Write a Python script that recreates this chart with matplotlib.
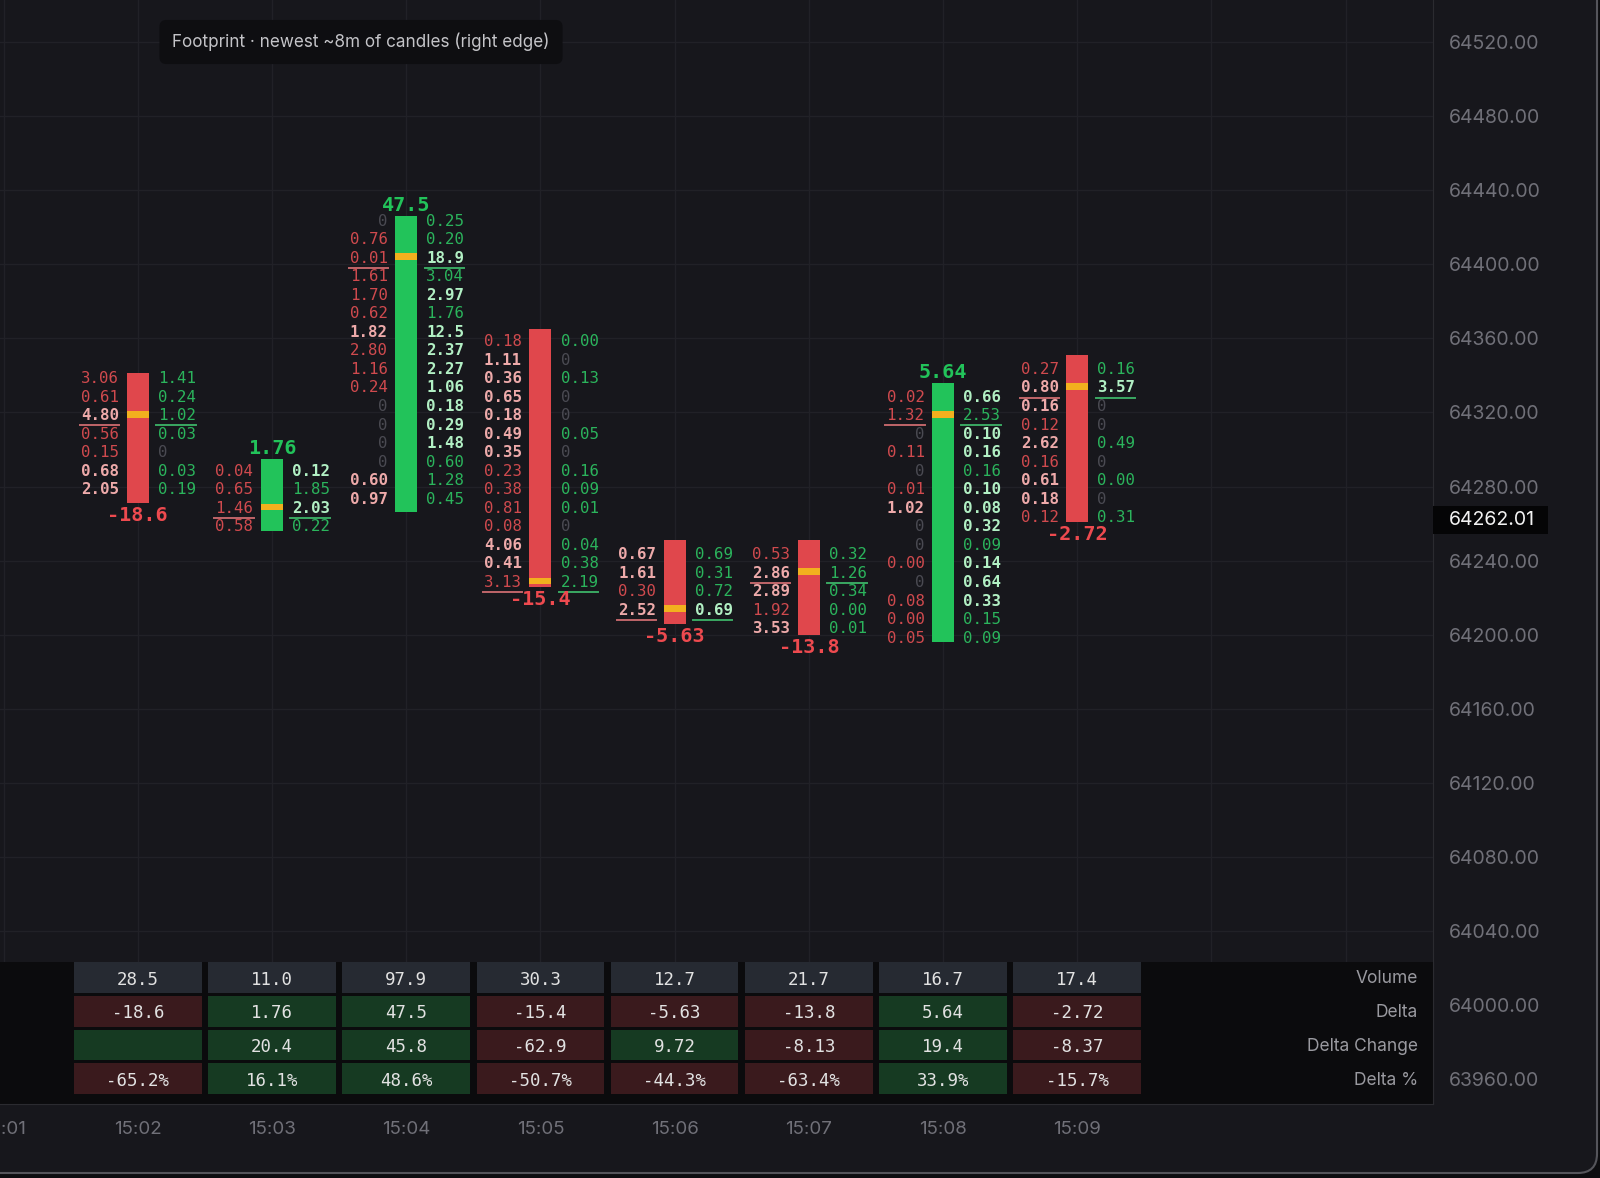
import numpy as np
import matplotlib.pyplot as plt
from matplotlib.patches import Rectangle, FancyBboxPatch
from matplotlib.transforms import blended_transform_factory

# ---- data ----
times = [2, 3, 4, 5, 6, 7, 8, 9]            # minutes after 15:00
time_ticks = [1, 2, 3, 4, 5, 6, 7, 8, 9]
time_labels = ['15:01', '15:02', '15:03', '15:04', '15:05', '15:06', '15:07', '15:08', '15:09']

opens = [64341, 64256, 64266, 64365, 64251, 64251, 64196, 64351]
closes = [64271, 64295, 64426, 64226, 64206, 64200, 64336, 64261]
top_levels = [64340, 64290, 64425, 64360, 64245, 64245, 64330, 64345]
tick_size = 10
poc_rows = [2, 2, 2, 13, 3, 1, 1, 1]

bids = [
    ['3.06', '0.61', '4.80', '0.56', '0.15', '0.68', '2.05'],
    ['0.04', '0.65', '1.46', '0.58'],
    ['0', '0.76', '0.01', '1.61', '1.70', '0.62', '1.82', '2.80', '1.16', '0.24', '0', '0', '0', '0', '0.60', '0.97'],
    ['0.18', '1.11', '0.36', '0.65', '0.18', '0.49', '0.35', '0.23', '0.38', '0.81', '0.08', '4.06', '0.41', '3.13'],
    ['0.67', '1.61', '0.30', '2.52'],
    ['0.53', '2.86', '2.89', '1.92', '3.53'],
    ['0.02', '1.32', '0', '0.11', '0', '0.01', '1.02', '0', '0', '0.00', '0', '0.08', '0.00', '0.05'],
    ['0.27', '0.80', '0.16', '0.12', '2.62', '0.16', '0.61', '0.18', '0.12'],
]
asks = [
    ['1.41', '0.24', '1.02', '0.03', '0', '0.03', '0.19'],
    ['0.12', '1.85', '2.03', '0.22'],
    ['0.25', '0.20', '18.9', '3.04', '2.97', '1.76', '12.5', '2.37', '2.27', '1.06', '0.18', '0.29', '1.48', '0.60', '1.28', '0.45'],
    ['0.00', '0', '0.13', '0', '0', '0.05', '0', '0.16', '0.09', '0.01', '0', '0.04', '0.38', '2.19'],
    ['0.69', '0.31', '0.72', '0.69'],
    ['0.32', '1.26', '0.34', '0.00', '0.01'],
    ['0.66', '2.53', '0.10', '0.16', '0.16', '0.10', '0.08', '0.32', '0.09', '0.14', '0.64', '0.33', '0.15', '0.09'],
    ['0.16', '3.57', '0', '0', '0.49', '0', '0.00', '0', '0.31'],
]
# rows flagged as imbalance (drawn bright/bold)
bid_hi = [[2, 5, 6], [], [6, 14, 15], [1, 2, 3, 4, 5, 6, 11, 12], [0, 1, 3], [1, 2, 4], [6], [1, 2, 4, 6, 7]]
ask_hi = [[], [0, 2], [2, 4, 6, 7, 8, 9, 10, 11, 12], [], [3], [], [0, 2, 3, 5, 6, 7, 9, 10, 11], [1]]

volume = [28.5, 11.0, 97.9, 30.3, 12.7, 21.7, 16.7, 17.4]
delta = [-18.6, 1.76, 47.5, -15.4, -5.63, -13.8, 5.64, -2.72]
delta_change = [None, 20.4, 45.8, -62.9, 9.72, -8.13, 19.4, -8.37]
delta_pct = [-65.2, 16.1, 48.6, -50.7, -44.3, -63.4, 33.9, -15.7]

price_ticks = list(range(63960, 64521, 40))
last_price = 64262.01
title = 'Footprint · newest ~8m of candles (right edge)'

# ---- style ----
BG = '#17171c'
GRID = '#212127'
RED = '#e0474c'
GREEN = '#22c35a'
POC = '#f2b01e'
BID_LO, BID_HI = '#d04a4e', '#eeaaaa'
ASK_LO, ASK_HI = '#2bb45c', '#b2f0c4'
ZERO = '#4a4a52'
AXIS_TXT = '#707078'
MONO = 'DejaVu Sans Mono'
SANS = ['Inter', 'DejaVu Sans']

W, H = 1600, 1178
fig = plt.figure(figsize=(W / 100, H / 100), dpi=100)
fig.patch.set_facecolor('#0d0d10')
frame = FancyBboxPatch((-30 / W, 1 - 1173 / H), (1597 + 30) / W, 1173 / H + 30 / H,
                       boxstyle='round,pad=0,rounding_size=0.012',
                       transform=fig.transFigure, fc=BG, ec='#55555b', lw=1.5,
                       mutation_aspect=W / H, zorder=-10)
fig.patches.append(frame)

XMIN, XMAX = 0.9732, 11.651
ax = fig.add_axes([0, 1 - 1104 / H, 1433 / W, 1104 / H])
ax.set_facecolor(BG)
ax.set_xlim(XMIN, XMAX)
ax.set_ylim(63946.7, 64542.6)
ax.set_axisbelow(True)
ax.set_xticks(range(1, 12))
ax.tick_params(axis='x', length=0, labelbottom=False)
ax.yaxis.tick_right()
ax.set_yticks(price_ticks)
ax.set_yticklabels([f'{p:.2f}' for p in price_ticks])
ax.tick_params(axis='y', length=0, pad=11.5, labelsize=14, labelcolor=AXIS_TXT)
for lb in ax.get_yticklabels():
    lb.set_family(SANS)
ax.grid(True, color=GRID, lw=1)
for s in ['top', 'left', 'bottom']:
    ax.spines[s].set_visible(False)
ax.spines['right'].set_color('#2b2b30')

BAR_HALF = 0.082
for i, t in enumerate(times):
    o, c = opens[i], closes[i]
    lo, hi = min(o, c), max(o, c)
    up = c >= o
    ax.add_patch(Rectangle((t - BAR_HALF, lo), 2 * BAR_HALF, hi - lo, fc=GREEN if up else RED, ec='none', zorder=3))
    levels = top_levels[i] - tick_size * np.arange(len(bids[i]))
    for k, lv in enumerate(levels):
        b, a = bids[i][k], asks[i][k]
        if b == '0':
            ax.text(t - 0.138, lv - 1, b, ha='right', va='center_baseline', fontsize=11.3, family=MONO, color=ZERO)
        else:
            strong = k in bid_hi[i]
            ax.text(t - 0.138, lv - 1, b, ha='right', va='center_baseline', fontsize=11.3, family=MONO,
                    color=BID_HI if strong else BID_LO, fontweight='bold' if strong else 'normal')
        if a == '0':
            ax.text(t + 0.15, lv - 1, a, ha='left', va='center_baseline', fontsize=11.3, family=MONO, color=ZERO)
        else:
            strong = k in ask_hi[i]
            ax.text(t + 0.15, lv - 1, a, ha='left', va='center_baseline', fontsize=11.3, family=MONO,
                    color=ASK_HI if strong else ASK_LO, fontweight='bold' if strong else 'normal')
    # point of control marker and underline
    pl = levels[poc_rows[i]] - 1
    y0, y1 = max(pl - 1.8, lo), min(pl + 1.8, hi)
    ax.add_patch(Rectangle((t - BAR_HALF, y0), 2 * BAR_HALF, y1 - y0, fc=POC, ec='none', zorder=4))
    yl = levels[poc_rows[i]] - 7
    ax.plot([t - 0.43, t - 0.137], [yl, yl], color='#c0666a', lw=1.4, zorder=2)
    ax.plot([t + 0.137, t + 0.43], [yl, yl], color='#3aa862', lw=1.4, zorder=2)
    # delta label
    d = delta[i]
    if d >= 0:
        ax.text(t, hi + 6.8, f'{d:.3g}', ha='center', va='center_baseline', fontsize=14.5, family=MONO,
                fontweight='bold', color=GREEN, zorder=5)
    else:
        ax.text(t, lo - 5.7, f'{d:.3g}', ha='center', va='center_baseline', fontsize=14.5, family=MONO,
                fontweight='bold', color='#ee4a4f', zorder=5)

# last price tag
tag = blended_transform_factory(ax.transAxes, ax.transData)
ax.add_patch(Rectangle((1.0, last_price - 7.5), 115 / 1433, 15, transform=tag, fc='#050506', ec='none',
                       clip_on=False, zorder=6))
ax.text(1449 / 1433, last_price, f'{last_price:.2f}', transform=tag, ha='left', va='center',
        fontsize=14, family=SANS, color='#f2f2f2', clip_on=False, zorder=7)

# title badge
fig.text(361 / W, 1 - 42 / H, title, ha='center', va='center', fontsize=12.3, family=SANS, color='#c4c4c8',
         bbox=dict(boxstyle='round,pad=0.75,rounding_size=0.4', fc='#0e0e11', ec='none'))

# ---- stats table ----
tx = fig.add_axes([0, 1 - 1104 / H, 1433 / W, (1104 - 962) / H])
tx.set_facecolor('#0b0b0d')
tx.set_xlim(XMIN, XMAX)
tx.set_ylim(3.751, -0.463)
tx.set_yticks([])
tx.set_xticks(time_ticks)
tx.set_xticklabels(time_labels, family=SANS)
tx.tick_params(axis='x', length=0, pad=12, labelsize=13.5, labelcolor=AXIS_TXT)
for s in ['top', 'left']:
    tx.spines[s].set_visible(False)
for s in ['right', 'bottom']:
    tx.spines[s].set_color('#2b2b30')

def fmt(v):
    return f'{v:.1f}' if abs(v) >= 10 else f'{v:.2f}'

rows = [('Volume', volume), ('Delta', delta), ('Delta Change', delta_change), ('Delta %', delta_pct)]
lab_tr = blended_transform_factory(tx.transAxes, tx.transData)
for r, (name, vals) in enumerate(rows):
    for i, t in enumerate(times):
        v = vals[i]
        if r == 0:
            fc = '#262a32'
        else:
            fc = '#163a22' if (v is None or v >= 0) else '#3a1a1d'
        tx.add_patch(Rectangle((t - 0.476, r - 0.452), 0.952, 0.905, fc=fc, ec='none'))
        if v is None:
            continue
        s = f'{v:.1f}%' if name == 'Delta %' else fmt(v)
        tx.text(t, r, s, ha='center', va='center_baseline', fontsize=12.5, family=MONO, color='#e2e2e2')
    tx.text(1418 / 1433, r + 0.04, name, transform=lab_tr, ha='right', va='center', fontsize=12.5,
            family=SANS, color='#9a9aa0')

fig.savefig('out.png', dpi=100, facecolor=fig.get_facecolor())
